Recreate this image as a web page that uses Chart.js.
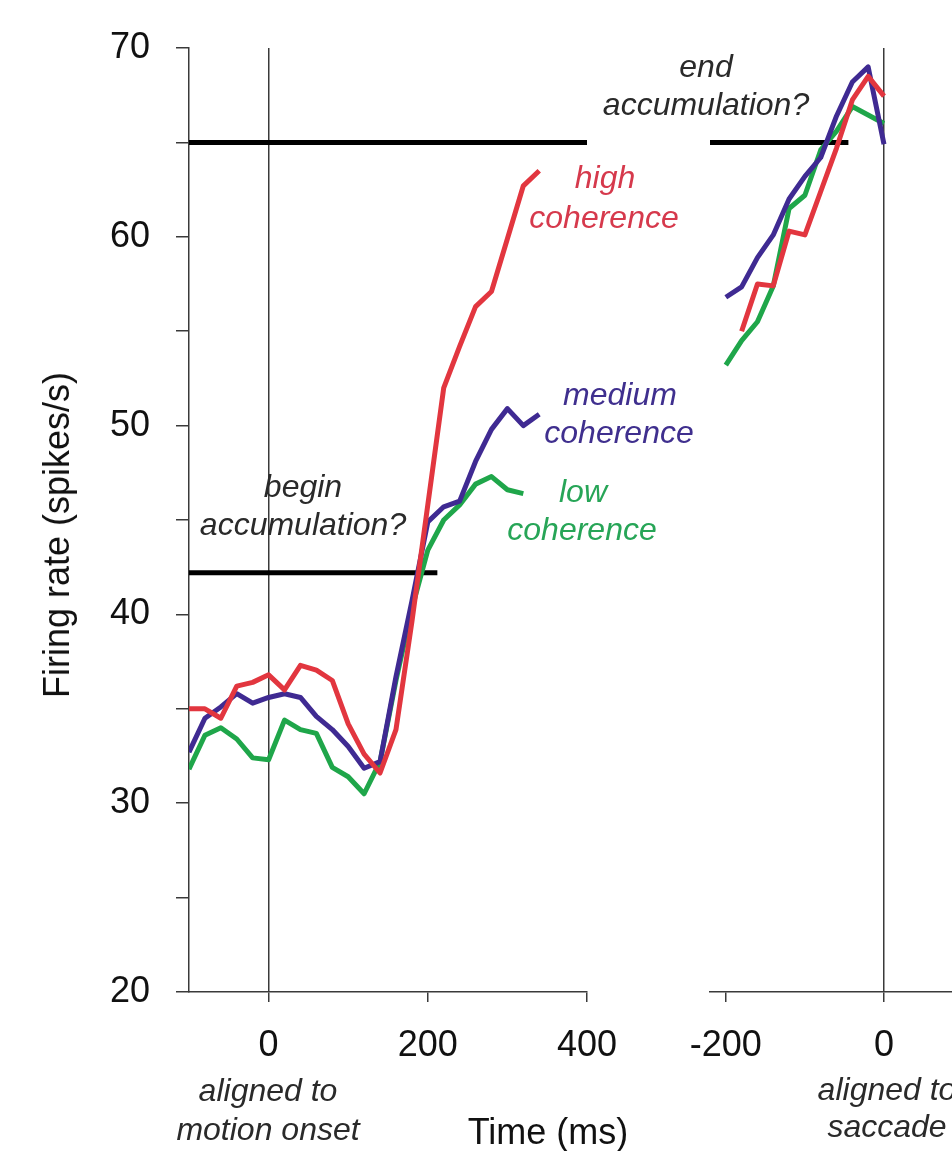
<!DOCTYPE html>
<html><head><meta charset="utf-8">
<script src="https://cdn.jsdelivr.net/npm/chart.js@4.4.1/dist/chart.umd.min.js"></script>
<style>
html,body{margin:0;padding:0;background:#fff;}
#wrap{position:relative;width:952px;height:1151px;overflow:hidden;background:#fff;}
canvas{position:absolute;top:0;}
.t{position:absolute;white-space:nowrap;font-family:'Liberation Sans',Arial,sans-serif;}
</style></head><body>
<div id="wrap">
<canvas id="left" width="640" height="1151" style="left:0;width:640px;height:1151px"></canvas>
<canvas id="right" width="312" height="1151" style="left:640px;width:312px;height:1151px"></canvas>
</div>
<script>
// ---- data ----
const tLeft = [-100,-80,-60,-40,-20,0,20,40,60,80,100,120,140,160,180,200,220,240,260,280,300,320,340];
const highLeft   = [35.0,35.0,34.5,36.2,36.4,36.8,36.0,37.3,37.05,36.5,34.2,32.6,31.6,33.9,39.6,45.8,52.0,54.2,56.3,57.1,59.9,62.7,63.5];
const mediumLeft = [32.7,34.5,35.1,35.8,35.3,35.6,35.8,35.6,34.6,33.9,33.0,31.85,32.2,36.7,40.7,44.9,45.7,46.0,48.1,49.8,50.9,50.0,50.6];
const lowLeft    = [31.8,33.6,34.0,33.4,32.4,32.3,34.4,33.9,33.7,31.9,31.4,30.5,32.2,36.5,40.3,43.4,45.0,45.8,46.9,47.3,46.6,46.4];

const tRight = [-200,-180,-160,-140,-120,-100,-80,-60,-40,-20,0];
const highRight   = [null,55.0,57.5,57.4,60.3,60.1,62.4,64.7,67.25,68.5,67.45];
const mediumRight = [56.8,57.35,58.9,60.1,62.0,63.2,64.2,66.4,68.2,69.0,64.9];
const lowRight    = [53.2,54.5,55.5,57.4,61.5,62.2,64.6,65.6,66.9,66.45,66.0];

const upperLevel = 65;
const lowerLevel = 42.2;
const upperSpanLeft  = [-100, 400];
const lowerSpanLeft  = [-100, 212];
const upperSpanRight = [-220, -45];

const xTicksLeft  = [0, 200, 400];
const xTicksRight = [-200, 0];
const yTicks = [20,25,30,35,40,45,50,55,60,65,70];
const yLabelled = [20,30,40,50,60,70];

// ---- styles ----
const RED = '#e2363f', BLUE = '#3f2a92', GREEN = '#1fa64a';
const RED_T = '#d6394c', BLUE_T = '#3f2f8e', GREEN_T = '#27a557';
const AX = '#3a3a3a';
const FONT = "'Liberation Sans', Arial, sans-serif";

function xy(ts, vs){ return vs.map((v,i)=>({x:ts[i], y:v})); }
function lineDs(data,color,order){
  return {data, borderColor:color, borderWidth:5, pointRadius:0, tension:0, fill:false,
          order, borderCapStyle:'butt', borderJoinStyle:'round', spanGaps:false};
}

Chart.defaults.font.family = FONT;

new Chart(document.getElementById('left'), {
  type:'line',
  data:{datasets:[
    lineDs(xy(tLeft,highLeft),RED,1),
    lineDs(xy(tLeft,mediumLeft),BLUE,2),
    lineDs(xy(tLeft,lowLeft),GREEN,3),
    lineDs(upperSpanLeft.map(t=>({x:t,y:upperLevel})),'#000',10),
    lineDs(lowerSpanLeft.map(t=>({x:t,y:lowerLevel})),'#000',10)
  ]},
  options:{
    responsive:false, animation:false, devicePixelRatio:1,
    layout:{padding:{top:48,right:53,left:0,bottom:0}},
    plugins:{legend:{display:false}, tooltip:{enabled:false}},
    scales:{
      x:{type:'linear', min:-100, max:400,
        afterBuildTicks:s=>{ s.ticks = xTicksLeft.map(v=>({value:v})); },
        afterFit:s=>{ s.height = 159; },
        border:{display:true, color:AX, width:1.5},
        grid:{color:c=>(c.tick && c.tick.value===0)?AX:'rgba(0,0,0,0)', lineWidth:1.5,
              tickLength:10, tickColor:AX, tickWidth:1.5},
        ticks:{font:{family:FONT,size:36}, color:'#111', padding:22, maxRotation:0, autoSkip:false}
      },
      y:{type:'linear', min:20, max:70,
        afterBuildTicks:s=>{ s.ticks = yTicks.map(v=>({value:v})); },
        afterFit:s=>{ s.width = 189; },
        border:{display:true, color:AX, width:1.5},
        grid:{drawOnChartArea:false, tickLength:13, tickColor:AX, tickWidth:1.5, lineWidth:1.5},
        ticks:{callback:v=> yLabelled.includes(v)?String(v):'', font:{family:FONT,size:36},
               color:'#111', padding:26, autoSkip:false}
      }
    }
  }
});

new Chart(document.getElementById('right'), {
  type:'line',
  data:{datasets:[
    lineDs(xy(tRight,highRight),RED,1),
    lineDs(xy(tRight,mediumRight),BLUE,2),
    lineDs(xy(tRight,lowRight),GREEN,3),
    lineDs(upperSpanRight.map(t=>({x:t,y:upperLevel})),'#000',10)
  ]},
  options:{
    responsive:false, animation:false, devicePixelRatio:1,
    layout:{padding:{top:48,right:0,left:70,bottom:0}},
    plugins:{legend:{display:false}, tooltip:{enabled:false}},
    scales:{
      x:{type:'linear', min:-220, max:86,
        afterBuildTicks:s=>{ s.ticks = xTicksRight.map(v=>({value:v})); },
        afterFit:s=>{ s.height = 159; },
        border:{display:true, color:AX, width:1.5},
        grid:{color:c=>(c.tick && c.tick.value===0)?AX:'rgba(0,0,0,0)', lineWidth:1.5,
              tickLength:10, tickColor:AX, tickWidth:1.5},
        ticks:{font:{family:FONT,size:36}, color:'#111', padding:22, maxRotation:0, autoSkip:false}
      },
      y:{type:'linear', min:20, max:70, display:false}
    }
  }
});

// ---- text annotations ----
const notes = [
  ['Firing rate (spikes/s)', 57, 535, 36, '#111', false, true],
  ['Time (ms)', 548, 1144, 36, '#111', false, false],
  ['aligned to', 268, 1101, 32, '#2a2a2a', true, false],
  ['motion onset', 268, 1140, 32, '#2a2a2a', true, false],
  ['aligned to', 887, 1100, 32, '#2a2a2a', true, false],
  ['saccade', 887, 1137, 32, '#2a2a2a', true, false],
  ['begin', 303, 497, 32, '#2a2a2a', true, false],
  ['accumulation?', 303, 535, 32, '#2a2a2a', true, false],
  ['end', 706, 77, 32, '#2a2a2a', true, false],
  ['accumulation?', 706, 115, 32, '#2a2a2a', true, false],
  ['high', 605, 188, 32, RED_T, true, false],
  ['coherence', 604, 228, 32, RED_T, true, false],
  ['medium', 620, 405, 32, BLUE_T, true, false],
  ['coherence', 619, 443, 32, BLUE_T, true, false],
  ['low', 583, 502, 32, GREEN_T, true, false],
  ['coherence', 582, 540, 32, GREEN_T, true, false]
];
const wrap = document.getElementById('wrap');
notes.forEach(([txt,cx,y,fs,col,it,rot])=>{
  const d = document.createElement('div');
  d.className = 't';
  d.textContent = txt;
  d.style.fontSize = fs+'px';
  d.style.lineHeight = fs+'px';
  d.style.color = col;
  if (it) d.style.fontStyle = 'italic';
  if (rot) {
    d.style.left = cx+'px'; d.style.top = y+'px';
    d.style.transform = 'translate(-50%,-50%) rotate(-90deg)';
  } else {
    d.style.left = cx+'px';
    d.style.top = (y - 0.8465*fs)+'px';
    d.style.transform = 'translateX(-50%)';
  }
  wrap.appendChild(d);
});
</script>
</body></html>
